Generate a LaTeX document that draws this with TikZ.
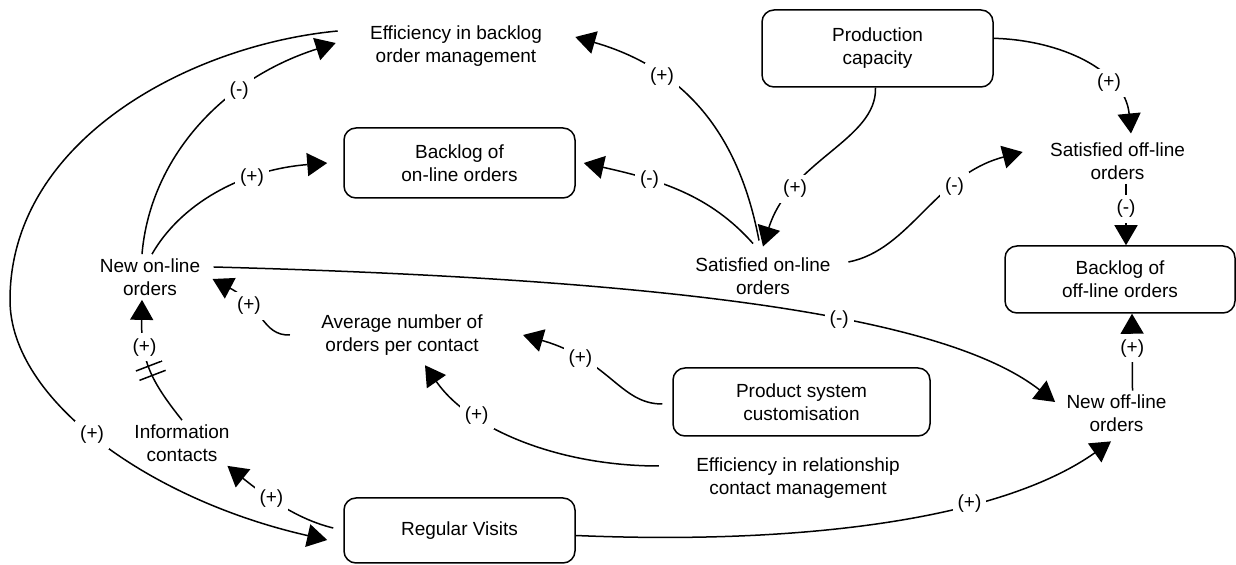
\documentclass[tikz,border=0pt]{standalone}
\usepackage{fontspec}
\setmainfont{Liberation Sans}
\usetikzlibrary{arrows.meta,decorations.markings}

\begin{document}
\begin{tikzpicture}[x=0.5pt,y=-0.5pt,
    font=\fontsize{9.5pt}{11.5pt}\selectfont,
    box/.style={draw,rounded corners=6pt,line width=0.75pt,align=center},
    var/.style={align=center,inner sep=2pt},
    link/.style={-{Triangle[length=10pt,width=11.5pt]},line width=0.75pt},
    sign/.style={fill=white,inner sep=2.5pt},
    delaymark/.style={postaction={decorate},decoration={markings,
        mark=at position #1 with {\draw[-] (-2.5pt,-7pt) -- (-2.5pt,7pt);
                                  \draw[-] (2.5pt,-7pt) -- (2.5pt,7pt);}}}]
    \useasboundingbox (0,0) rectangle (1236,565);

    \node[box,minimum width=115.5pt,minimum height=38.5pt] (prodcap) at (877.5,48.5) {Production\\capacity};
    \node[box,minimum width=115.5pt,minimum height=35pt] (bklon) at (459.5,163) {Backlog of\\on-line orders};
    \node[box,minimum width=115pt,minimum height=33.5pt] (bkloff) at (1120,279.5) {Backlog of\\off-line orders};
    \node[box,minimum width=128.5pt,minimum height=34pt] (psc) at (801.5,402) {Product system\\customisation};
    \node[box,minimum width=115.5pt,minimum height=32.5pt] (regv) at (459.5,530.5) {Regular Visits};

    \node[var] (effbl) at (456,46) {Efficiency in backlog\\order management};
    \node[var] (satoff) at (1117.5,161) {Satisfied off-line\\orders};
    \node[var] (satOn) at (763,276) {Satisfied on-line\\orders};
    \node[var] (newon) at (150,277) {New on-line\\orders};
    \node[var] (avg) at (402,335) {Average number of\\orders per contact};
    \node[var] (newoff) at (1116.5,413.5) {New off-line\\orders};
    \node[var] (infoc) at (182,443) {Information\\contacts};
    \node[var] (effrel) at (798,478) {Efficiency in relationship\\contact management};

    \draw[link] ([xshift=-4pt]newon.north) .. controls (150,160) and (220,80) .. ([xshift=-15pt,yshift=1.5pt]effbl.west) node[sign,pos=0.68] {(-)};
    \draw[link] ([xshift=1pt]newon.north) .. controls (180,205) and (240,170) .. ([xshift=-8pt]bklon.west) node[sign,pos=0.68] {(+)};
    \draw[link] ([xshift=-14pt,yshift=7.5pt]effbl.west) .. controls (190,45) and (10,140) .. (10,300)
        .. controls (10,400) and (150,500) .. ([xshift=-8pt,yshift=-4.75pt]regv.west) node[sign,pos=0.47] {(+)};
    \draw[link] ([xshift=4.5pt,yshift=5pt]newon.east) .. controls (700,280) and (950,320) .. ([xshift=-3.5pt,yshift=5.75pt]newoff.west) node[sign,pos=0.58] {(-)};
    \draw[link] ([xshift=-13.5pt]avg.west) .. controls (262,336) and (262,305) .. ([xshift=4pt,yshift=-1pt]newon.east) node[sign,pos=0.66] {(+)};
    \draw[link] ([xshift=-5pt,yshift=-1pt]psc.west) .. controls (620,404) and (610,360) .. ([xshift=18pt]avg.east) node[sign,pos=0.72] {(+)};
    \draw[link] ([xshift=-16.5pt,yshift=6pt]effrel.west) .. controls (560,466) and (470,430) .. ([xshift=11.5pt,yshift=-2.75pt]avg.south) node[sign,pos=0.7] {(+)};

    \draw[link] ([xshift=-2pt,yshift=6.3pt]satOn.north) .. controls (740,140) and (690,70) .. ([xshift=14.5pt,yshift=4.5pt]effbl.east) node[sign,pos=0.7] {(+)};
    \draw[link] ([xshift=-1pt]prodcap.south) .. controls (877,140) and (790,160) .. ([yshift=3.3pt]satOn.north) node[sign,pos=0.73] {(+)};
    \draw[link] ([xshift=-5pt,yshift=4.8pt]satOn.north) .. controls (710,195) and (660,180) .. ([xshift=4pt]bklon.east) node[sign,pos=0.68] {(-)};
    \draw[link] ([xshift=6.7pt,yshift=7pt]satOn.east) .. controls (910,250) and (935,175) .. ([xshift=-11.5pt,yshift=4.5pt]satoff.west) node[sign,pos=0.68] {(-)};
    \draw[link] (prodcap.5) .. controls (1060,40) and (1125,70) .. ([xshift=6.75pt,yshift=2.3pt]satoff.north) node[sign,pos=0.68] {(+)};
    \draw[link] ([xshift=4.25pt]satoff.south) -- ([xshift=3pt]bkloff.north) node[sign,pos=0.41] {(-)};
    \draw[link] ([xshift=8pt]newoff.north) -- ([xshift=6pt]bkloff.south) node[sign,pos=0.55] {(+)};

    \draw[link] ([yshift=-2.5pt]regv.east) .. controls (800,545) and (1000,520) .. ([xshift=-2.75pt,yshift=-2.5pt]newoff.south) node[sign,pos=0.66] {(+)};
    \draw[link] ([xshift=-5pt,yshift=1.25pt]regv.west) .. controls (300,520) and (270,500) .. ([xshift=-3.25pt]infoc.south east) node[sign,pos=0.62] {(+)};
    \draw[link,delaymark=0.45] (infoc.north) .. controls (150,380) and (141,360) .. ([xshift=-4pt]newon.south) node[sign,pos=0.68] {(+)};
\end{tikzpicture}
\end{document}
